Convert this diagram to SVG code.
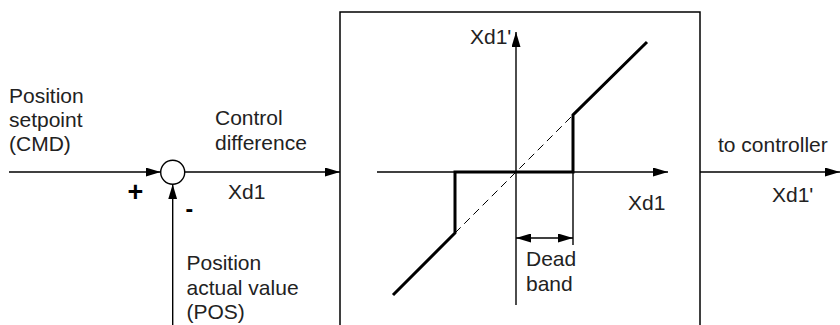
<svg xmlns="http://www.w3.org/2000/svg" width="840" height="325" viewBox="0 0 840 325">
  <style>
    text { font-family: "Liberation Sans", Arial, sans-serif; font-size: 21px; fill: #222; }
    .sign { font-weight: bold; fill: #000; }
    .ln { stroke: #000; stroke-width: 1.4; fill: none; }
    .thick { stroke: #000; stroke-width: 3; fill: none; stroke-linejoin: miter; }
    .dash { stroke: #000; stroke-width: 1; fill: none; stroke-dasharray: 8 5; }
  </style>
  <defs>
    <marker id="arr" viewBox="0 0 15 9" refX="15" refY="4.5" markerWidth="15" markerHeight="9" markerUnits="userSpaceOnUse" orient="auto-start-reverse">
      <path d="M0,0 L15,4.5 L0,9 z" fill="#000"/>
    </marker>
  </defs>
  <rect width="840" height="325" fill="#fff"/>

  <g id="setpoint-label">
    <text x="9" y="103">Position</text>
    <text x="9" y="127">setpoint</text>
    <text x="9" y="151">(CMD)</text>
  </g>

  <g id="summing-junction">
    <circle cx="172.7" cy="172.3" r="12" fill="#fff" stroke="#000" stroke-width="1.4"/>
    <text class="sign" x="135.5" y="201" text-anchor="middle" style="font-size:27px">+</text>
    <text class="sign" x="185.5" y="217" style="font-size:23px">-</text>
  </g>

  <g id="control-difference-label">
    <text x="215" y="125">Control</text>
    <text x="215" y="150">difference</text>
    <text x="228" y="199">Xd1</text>
  </g>

  <g id="actual-value-label">
    <text x="186.5" y="270">Position</text>
    <text x="186.5" y="294.5">actual value</text>
    <text x="186.5" y="318.5">(POS)</text>
  </g>

  <g id="dead-band-block">
    <rect x="340" y="12" width="360" height="330" fill="none" stroke="#000" stroke-width="1.5"/>
    <line class="ln" x1="377" y1="172" x2="668" y2="172" marker-end="url(#arr)"/>
    <line class="ln" x1="516" y1="305" x2="516" y2="32" marker-end="url(#arr)"/>
    <line class="dash" x1="455" y1="233" x2="573" y2="115"/>
    <polyline class="thick" points="393,295 455,233 455,172 573,172 573,115 647,42"/>
    <line class="ln" x1="573" y1="172" x2="573" y2="245"/>
    <line class="ln" x1="516" y1="238" x2="573" y2="238" marker-start="url(#arr)" marker-end="url(#arr)"/>
    <text x="470" y="43.5">Xd1'</text>
    <text x="628" y="210">Xd1</text>
    <text x="526" y="266">Dead</text>
    <text x="526" y="291">band</text>
  </g>

  <g id="output-label">
    <text x="718" y="152">to controller</text>
    <text x="772" y="202">Xd1'</text>
  </g>

  <g id="connectors">
    <line class="ln" x1="9" y1="172" x2="160.7" y2="172" marker-end="url(#arr)"/>
    <line class="ln" x1="172.7" y1="325" x2="172.7" y2="184.3" marker-end="url(#arr)"/>
    <line class="ln" x1="184.7" y1="172" x2="340" y2="172" marker-end="url(#arr)"/>
    <line class="ln" x1="700" y1="172" x2="840" y2="172" marker-end="url(#arr)"/>
  </g>
</svg>
